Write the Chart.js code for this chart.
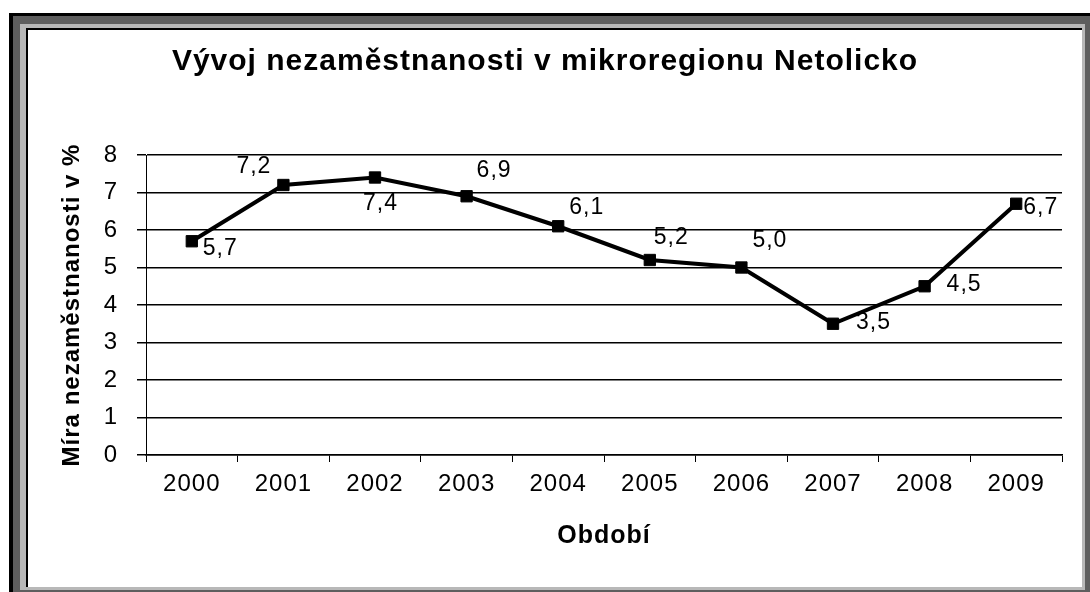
<!DOCTYPE html>
<html>
<head>
<meta charset="utf-8">
<title>Vývoj nezaměstnanosti v mikroregionu Netolicko</title>
<script src="https://cdn.jsdelivr.net/npm/chart.js@4"></script>
<style>
    body { margin: 0; background: #fff; width: 1090px; height: 592px; overflow: hidden; position: relative; }
    .band { position: absolute; }
    #chartBox { position: absolute; left: 28px; top: 30px; width: 1054px; height: 557px; background: #fff; }
</style>
</head>
<body>
<div class="band" style="left:9px;top:13px;width:1081px;height:579px;background:#000"></div>
<div class="band" style="left:13px;top:16px;width:1077px;height:576px;background:#5e5e5e"></div>
<div class="band" style="left:20px;top:24px;width:1065px;height:566px;background:#b8b8b8"></div>
<div class="band" style="left:26px;top:28px;width:1056px;height:559px;background:#000"></div>
<div id="chartBox"><canvas id="chart" width="1054" height="557"></canvas></div>

<script>
// Data
const years = ['2000', '2001', '2002', '2003', '2004', '2005', '2006', '2007', '2008', '2009'];
const unemployment = [5.7, 7.2, 7.4, 6.9, 6.1, 5.2, 5.0, 3.5, 4.5, 6.7];
const yTicks = [0, 1, 2, 3, 4, 5, 6, 7, 8];

const FONT = "'Liberation Sans', Arial, sans-serif";

// Where each value label sits relative to its point (dx, dy in px)
const labelPlacement = [[28, 7], [-30, -18], [5, 26], [27, -26], [28, -19], [21, -22], [28, -27], [40, -1], [39, -2], [24, 4]];

// Czech decimal comma
function fmt(v) {
    return v.toFixed(1).replace('.', ',');
}

// Slightly wider text, like the original picture
const spacingPlugin = {
    id: 'spacing',
    beforeDraw(chart) { chart.ctx.letterSpacing = '1px'; },
    afterDraw(chart) { chart.ctx.letterSpacing = '0px'; }
};

// Value labels next to the points
const valueLabels = {
    id: 'valueLabels',
    afterDatasetsDraw(chart) {
        const ctx = chart.ctx;
        const meta = chart.getDatasetMeta(0);
        ctx.save();
        ctx.letterSpacing = '1px';
        ctx.font = '23px ' + FONT;
        ctx.fillStyle = '#000';
        ctx.textAlign = 'center';
        ctx.textBaseline = 'middle';
        meta.data.forEach((pt, i) => {
            const off = labelPlacement[i];
            ctx.fillText(fmt(unemployment[i]), pt.x + off[0] + 0.5, pt.y + off[1]);
        });
        ctx.restore();
    }
};

const ctx = document.getElementById('chart').getContext('2d');
new Chart(ctx, {
    type: 'line',
    data: {
        labels: years,
        datasets: [{
            data: unemployment,
            borderColor: '#000',
            backgroundColor: '#000',
            borderWidth: 4,
            pointStyle: 'rect',
            pointRadius: 8,
            pointBorderWidth: 1,
            pointBackgroundColor: '#000',
            pointBorderColor: '#000',
            tension: 0
        }]
    },
    options: {
        responsive: false,
        animation: false,
        layout: { padding: { left: 0, right: 20, top: 0, bottom: 0 } },
        plugins: {
            legend: { display: false },
            tooltip: { enabled: false },
            title: {
                display: true,
                text: 'Vývoj nezaměstnanosti v mikroregionu Netolicko',
                color: '#000',
                font: { family: FONT, size: 30, weight: 'bold' },
                padding: { top: 14, bottom: 75 }
            }
        },
        scales: {
            x: {
                offset: true,
                grid: {
                    offset: true,
                    drawOnChartArea: false,
                    drawTicks: true,
                    tickLength: 7,
                    color: '#000',
                    lineWidth: 1
                },
                border: { display: true, color: '#000', width: 1.5 },
                ticks: {
                    color: '#000',
                    padding: 8,
                    font: { family: FONT, size: 24 }
                },
                title: {
                    display: true,
                    text: 'Období',
                    color: '#000',
                    font: { family: FONT, size: 25, weight: 'bold' },
                    padding: { top: 0, bottom: 36 }
                },
                afterFit(scale) { scale.height = 132; }
            },
            y: {
                min: yTicks[0],
                max: yTicks[yTicks.length - 1],
                afterBuildTicks(scale) {
                    scale.ticks = yTicks.map(v => ({ value: v }));
                },
                grid: {
                    color: '#000',
                    lineWidth: 1.5,
                    drawTicks: true,
                    tickLength: 9
                },
                border: { display: true, color: '#000', width: 1 },
                ticks: {
                    color: '#000',
                    padding: 19,
                    font: { family: FONT, size: 24 }
                },
                title: {
                    display: true,
                    text: 'Míra nezaměstnanosti v %',
                    color: '#000',
                    font: { family: FONT, size: 24, weight: 'bold' },
                    padding: { top: 30, bottom: 0 }
                },
                afterFit(scale) { scale.width = 118; }
            }
        }
    },
    plugins: [spacingPlugin, valueLabels]
});
</script>
</body>
</html>
